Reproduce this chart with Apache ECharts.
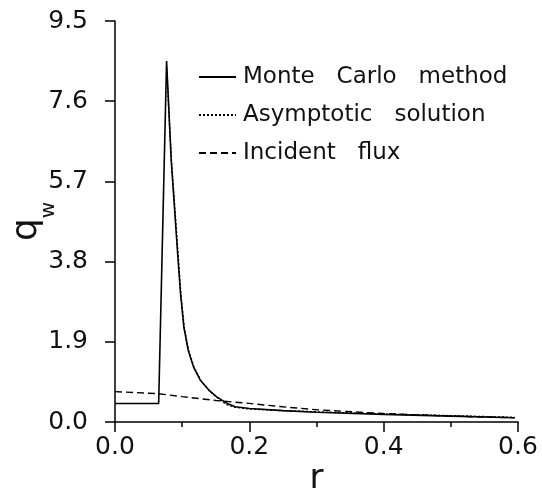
<!DOCTYPE html>
<html>
<head>
<meta charset="utf-8">
<script src="https://cdn.jsdelivr.net/npm/echarts@6/dist/echarts.min.js"></script>
<style>html,body{margin:0;padding:0;background:#fff}#c{width:542px;height:495px}</style>
</head>
<body>
<div id="c"></div>
<script>
// r values and q_w values
var mcR   = [0, 0.065, 0.0768, 0.0837, 0.094, 0.0976, 0.1025, 0.109, 0.117, 0.127, 0.14, 0.152, 0.167, 0.179, 0.2, 0.25, 0.3, 0.4, 0.5, 0.595];
var mcQ   = [0.44, 0.44, 8.55, 6.2, 3.83, 3.04, 2.25, 1.70, 1.30, 0.99, 0.75, 0.59, 0.44, 0.36, 0.32, 0.27, 0.23, 0.18, 0.14, 0.10];
var asR   = [0.0768, 0.084, 0.0945, 0.098, 0.103, 0.1095, 0.1175, 0.1275, 0.14, 0.152, 0.165, 0.178, 0.2, 0.25, 0.3, 0.4, 0.5, 0.595];
var asQ   = [8.4, 6.2, 3.83, 3.04, 2.25, 1.70, 1.30, 0.99, 0.75, 0.58, 0.42, 0.35, 0.31, 0.27, 0.24, 0.19, 0.15, 0.11];
var inR   = [0, 0.065, 0.1, 0.15, 0.2, 0.25, 0.3, 0.4, 0.5, 0.595];
var inQ   = [0.72, 0.67, 0.60, 0.51, 0.44, 0.36, 0.29, 0.20, 0.14, 0.10];
var seriesNames = ['Monte   Carlo   method', 'Asymptotic   solution', 'Incident   flux'];
var yTicks = [0.0, 1.9, 3.8, 5.7, 7.6, 9.5];
var xTicks = [0.0, 0.2, 0.4, 0.6];

function zip(a, b) { return a.map(function (v, i) { return [v, b[i]]; }); }

var font = 'DejaVu Sans';
var chart = echarts.init(document.getElementById('c'), null, {renderer: 'canvas'});
chart.setOption({
  animation: false,
  backgroundColor: '#fff',
  grid: {left: 115, right: 24, top: 21, bottom: 73, containLabel: false, outerBoundsMode: 'none'},
  legend: {
    orient: 'vertical', left: 193, top: 60,
    itemWidth: 37, itemHeight: 14, itemGap: 14,
    itemStyle: {opacity: 0},
    textStyle: {fontFamily: font, fontSize: 23, lineHeight: 24, color: '#111', padding: [0, 0, 0, 2]},
    data: seriesNames
  },
  xAxis: {
    type: 'value', min: xTicks[0], max: xTicks[xTicks.length - 1], interval: 0.2,
    axisLine: {lineStyle: {color: '#000', width: 1.5}},
    axisTick: {length: 10, lineStyle: {color: '#000', width: 1.5}},
    minorTick: {show: true, splitNumber: 2, length: 5, lineStyle: {color: '#000', width: 1.5}},
    splitLine: {show: false},
    axisLabel: {fontFamily: font, fontSize: 25, color: '#111', margin: 13, formatter: function (v) { return v.toFixed(1); }},
    name: 'r', nameLocation: 'middle', nameGap: 40, nameMoveOverlap: false,
    nameTextStyle: {fontFamily: font, fontSize: 34, color: '#111'}
  },
  yAxis: {
    type: 'value', min: yTicks[0], max: yTicks[yTicks.length - 1], interval: 1.9,
    axisLine: {show: true, lineStyle: {color: '#000', width: 1.5}},
    axisTick: {show: true, length: 10, lineStyle: {color: '#000', width: 1.5}},
    splitLine: {show: false},
    axisLabel: {fontFamily: font, fontSize: 25, color: '#111', margin: 27, formatter: function (v) { return v.toFixed(1); }},
    name: 'q{w|w}', nameLocation: 'middle', nameGap: 70, nameRotate: 90, nameMoveOverlap: false,
    nameTextStyle: {fontFamily: font, fontSize: 36, color: '#111',
      rich: {w: {fontFamily: font, fontSize: 20, color: '#111', verticalAlign: 'bottom', padding: [0, 0, -14, 0]}}}
  },
  series: [
    {name: seriesNames[0], type: 'line', symbol: 'none', data: zip(mcR, mcQ),
     lineStyle: {color: '#000', width: 1.6, type: 'solid'}, itemStyle: {color: '#000'}},
    {name: seriesNames[1], type: 'line', symbol: 'none', data: zip(asR, asQ),
     lineStyle: {color: '#000', width: 1.4, type: [2, 2]}, itemStyle: {color: '#000'}},
    {name: seriesNames[2], type: 'line', symbol: 'none', data: zip(inR, inQ),
     lineStyle: {color: '#000', width: 1.4, type: [7, 4]}, itemStyle: {color: '#000'}}
  ]
});
</script>
</body>
</html>
